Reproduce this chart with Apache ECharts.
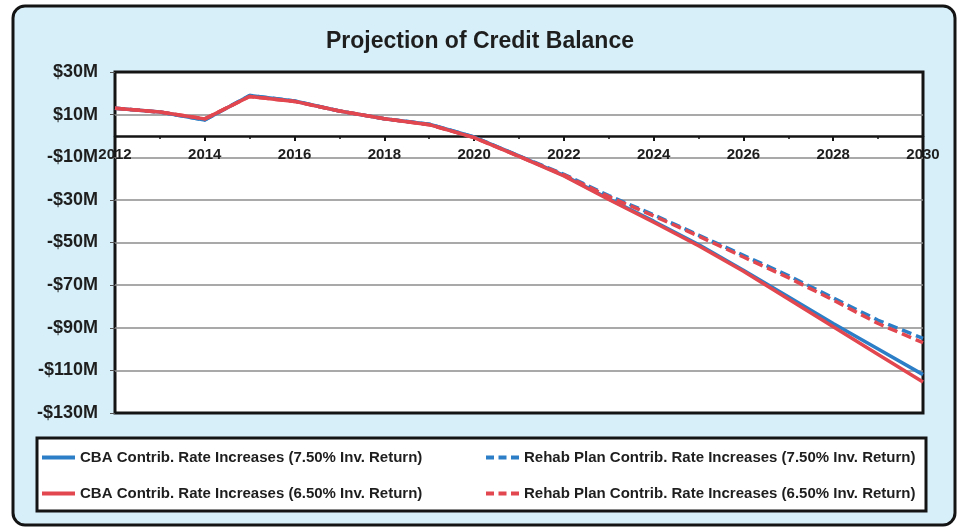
<!DOCTYPE html>
<html>
<head>
<meta charset="utf-8">
<script src="https://cdn.jsdelivr.net/npm/echarts@6/dist/echarts.min.js"></script>
<style>
  html, body { margin: 0; padding: 0; background: #ffffff; }
  #chart { width: 960px; height: 529px; }
</style>
</head>
<body>
<div id="chart"></div>
<script>
// Projected credit balance, $ millions, plan years 2012-2030
const years = [2012, 2013, 2014, 2015, 2016, 2017, 2018, 2019, 2020, 2021,
               2022, 2023, 2024, 2025, 2026, 2027, 2028, 2029, 2030];
const cba750 = [13.0, 11.2, 7.5, 19.0, 16.4, 11.7, 8.1, 5.5, -0.5, -9.4,
                -18.5, -29.5, -40.0, -51.0, -63.0, -75.5, -88.0, -100.0, -112.0];
const cba650 = [13.0, 11.2, 8.0, 18.5, 16.2, 11.7, 8.1, 5.3, -0.8, -9.6,
                -18.8, -29.8, -40.5, -51.5, -63.5, -76.5, -89.5, -102.5, -115.5];
const rehab750 = [13.0, 11.2, 7.5, 19.0, 16.4, 11.7, 8.1, 5.5, -0.5, -9.4,
                  -18.0, -28.0, -37.0, -46.5, -56.0, -65.5, -76.0, -86.5, -95.0];
const rehab650 = [13.0, 11.2, 8.0, 18.5, 16.2, 11.7, 8.1, 5.3, -0.8, -9.6,
                  -18.3, -28.5, -37.5, -47.0, -56.8, -66.5, -77.0, -88.0, -97.0];
const yTickLabels = ['-$130M', '-$110M', '-$90M', '-$70M', '-$50M',
                     '-$30M', '-$10M', '$10M', '$30M'];
const seriesNames = [
  'CBA Contrib. Rate Increases (7.50% Inv. Return)',
  'Rehab Plan Contrib. Rate Increases (7.50% Inv. Return)',
  'CBA Contrib. Rate Increases (6.50% Inv. Return)',
  'Rehab Plan Contrib. Rate Increases (6.50% Inv. Return)'
];

const Y_MIN = -130;
const Y_MAX = 30;

const BLUE = '#2c7fc6';
const RED = '#e2474f';
const FONT = '"Liberation Sans", Arial, sans-serif';
const TEXT = '#1e1e1e';

const GRID = { left: 115, right: 37, top: 72, bottom: 116 };
const CHART_H = 529;
const gridHeight = CHART_H - GRID.top - GRID.bottom;
// shift the year axis up from the grid bottom to the zero line
const zeroOffset = -((0 - Y_MIN) / (Y_MAX - Y_MIN)) * gridHeight;

const pair = (vals) => years.map((y, i) => [y, vals[i]]);

// legend swatches: a solid bar, or a row of dashes
const ICON_SOLID = 'path://M0,0h33v4h-33z';
const ICON_DASH = 'path://M0,0h8v4h-8z M12.5,0h8v4h-8z M25,0h8v4h-8z';

const chart = echarts.init(document.getElementById('chart'), null, { renderer: 'canvas' });

function lineSeries(name, vals, color, dashed) {
  return {
    name: name,
    type: 'line',
    xAxisIndex: 0,
    yAxisIndex: 0,
    data: pair(vals),
    symbol: 'none',
    showSymbol: false,
    smooth: false,
    lineStyle: {
      color: color,
      width: 3.5,
      type: dashed ? [10, 5] : 'solid'
    },
    itemStyle: { color: color }
  };
}

const legendText = { fontFamily: FONT, fontWeight: 'bold', fontSize: 15, color: TEXT };

function legendBlock(left, names, icons) {
  return {
    data: names.map((n, i) => ({ name: n, icon: icons[i] })),
    orient: 'vertical',
    left: left,
    top: 450,
    padding: 0,
    itemWidth: 33,
    itemHeight: 4,
    itemGap: 21,
    textStyle: legendText
  };
}

const lastTick = yTickLabels.length - 1;

chart.setOption({
  backgroundColor: '#ffffff',
  animation: false,
  title: {
    text: 'Projection of Credit Balance',
    left: 'center',
    top: 25,
    textStyle: { fontFamily: FONT, fontWeight: 'bold', fontSize: 23, color: TEXT }
  },
  graphic: [
    {
      type: 'rect',
      z: -10,
      shape: { x: 13, y: 6, width: 942, height: 519, r: 12 },
      style: { fill: '#d6eff8', stroke: '#141414', lineWidth: 3 }
    },
    {
      type: 'rect',
      z: -5,
      shape: { x: 37, y: 438, width: 889, height: 73 },
      style: { fill: '#ffffff', stroke: '#141414', lineWidth: 3 }
    }
  ],
  grid: {
    left: GRID.left,
    right: GRID.right,
    top: GRID.top,
    bottom: GRID.bottom,
    show: true,
    backgroundColor: '#ffffff',
    borderColor: '#141414',
    borderWidth: 3
  },
  legend: [
    legendBlock(42, [seriesNames[0], seriesNames[2]], [ICON_SOLID, ICON_SOLID]),
    legendBlock(486, [seriesNames[1], seriesNames[3]], [ICON_DASH, ICON_DASH])
  ],
  xAxis: {
    type: 'value',
    min: 2012,
    max: 2030,
    interval: 2,
    offset: zeroOffset,
    axisLine: {
      show: true,
      onZero: false,
      lineStyle: { color: '#141414', width: 2.5 }
    },
    axisTick: { show: true, length: 5, lineStyle: { color: '#141414', width: 2 } },
    minorTick: { show: true, splitNumber: 2, length: 3, lineStyle: { color: '#141414', width: 1.5 } },
    splitLine: { show: false },
    axisLabel: {
      margin: 11,
      fontFamily: FONT,
      fontWeight: 'bold',
      fontSize: 15,
      color: TEXT,
      formatter: (v) => String(v)
    }
  },
  yAxis: [
    {
      // value scale used by the data
      type: 'value',
      min: Y_MIN,
      max: Y_MAX,
      axisLine: { show: false },
      axisTick: { show: false },
      axisLabel: { show: false },
      splitLine: { show: false }
    },
    {
      // evenly spaced tick labels and gridlines every $20M
      type: 'category',
      data: yTickLabels,
      boundaryGap: false,
      position: 'left',
      axisLine: { show: false },
      axisTick: { show: true, length: 5, lineStyle: { color: '#555', width: 1 } },
      axisLabel: {
        margin: 17,
        fontFamily: FONT,
        fontWeight: 'bold',
        fontSize: 18,
        color: TEXT
      },
      splitLine: {
        show: true,
        interval: (idx) => idx !== 0 && idx !== lastTick,
        lineStyle: { color: '#8c8c8c', width: 1.5 }
      }
    }
  ],
  series: [
    lineSeries(seriesNames[1], rehab750, BLUE, true),
    lineSeries(seriesNames[0], cba750, BLUE, false),
    lineSeries(seriesNames[3], rehab650, RED, true),
    lineSeries(seriesNames[2], cba650, RED, false)
  ]
});
</script>
</body>
</html>
